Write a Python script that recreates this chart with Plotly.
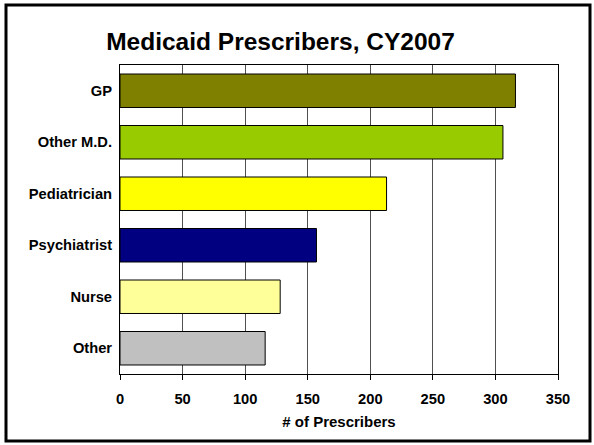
import plotly.graph_objects as go

categories = ["GP", "Other M.D.", "Pediatrician", "Psychiatrist", "Nurse", "Other"]
prescribers = [316, 306, 213, 157, 128, 116]
bar_colors = ["#808000", "#99CC00", "#FFFF00", "#000080", "#FFFF99", "#C0C0C0"]
x_ticks = [0, 50, 100, 150, 200, 250, 300, 350]

FONT = "Liberation Sans, Arial, sans-serif"

fig = go.Figure(
    go.Bar(
        x=prescribers,
        y=categories,
        orientation="h",
        marker=dict(color=bar_colors, line=dict(color="#000000", width=1)),
        width=0.65,
    )
)

W, H = 594, 445
L, R, T, B = 120, 36, 65, 71
pw, ph = W - L - R, H - T - B

def px(xp):
    return (xp - L) / pw

def py(yp):
    return (H - B - yp) / ph

fig.update_layout(
    width=W,
    height=H,
    margin=dict(l=L, r=R, t=T, b=B),
    paper_bgcolor="white",
    plot_bgcolor="white",
    showlegend=False,
    title=dict(
        text="Medicaid Prescribers, CY2007",
        x=280.5 / W,
        xanchor="center",
        y=1 - 41 / H,
        yanchor="middle",
        font=dict(family=FONT, size=24.5, color="black", weight="bold"),
    ),
    xaxis=dict(
        range=[0, 350],
        tickvals=x_ticks,
        ticktext=[str(v) for v in x_ticks],
        showgrid=True,
        gridcolor="#505050",
        gridwidth=1,
        showline=True,
        linecolor="black",
        linewidth=1,
        mirror=True,
        ticks="outside",
        ticklen=5,
        tickcolor="black",
        ticklabelstandoff=6,
        tickfont=dict(family=FONT, size=14.7, color="black", weight="bold"),
        title=dict(
            text="# of Prescribers",
            font=dict(family=FONT, size=15, color="black", weight="bold"),
            standoff=10,
        ),
        zeroline=False,
        automargin=False,
        fixedrange=True,
    ),
    yaxis=dict(
        categoryorder="array",
        categoryarray=categories[::-1],
        showline=True,
        linecolor="black",
        linewidth=1,
        mirror=True,
        ticks="",
        ticklabelstandoff=4,
        tickfont=dict(family=FONT, size=14.7, color="black", weight="bold"),
        showgrid=False,
        automargin=False,
        fixedrange=True,
    ),
    shapes=[
        dict(
            type="rect",
            xref="paper",
            yref="paper",
            x0=px(6),
            x1=px(590),
            y0=py(441),
            y1=py(5),
            line=dict(color="black", width=3),
            fillcolor="rgba(0,0,0,0)",
            layer="below",
        )
    ],
)

fig.write_html(
    "out.html",
    config={"displayModeBar": False},
    post_script="document.body.style.margin='0';document.body.style.padding='0';",
)
